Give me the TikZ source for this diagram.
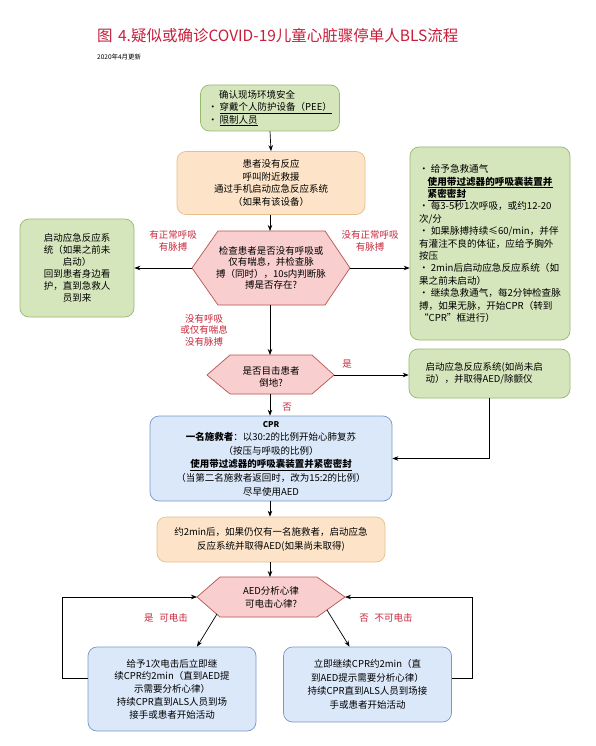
\documentclass[tikz,border=0pt]{standalone}
\usepackage{fontspec}
\setmainfont{Noto Sans CJK SC}
\usetikzlibrary{arrows.meta}
\definecolor{gfill}{RGB}{214,230,188}
\definecolor{gdraw}{RGB}{150,185,110}
\definecolor{ofill}{RGB}{253,228,200}
\definecolor{odraw}{RGB}{232,190,140}
\definecolor{pfill}{RGB}{248,206,206}
\definecolor{pdraw}{RGB}{184,84,80}
\definecolor{bfill}{RGB}{218,232,250}
\definecolor{bdraw}{RGB}{120,152,200}
\definecolor{lred}{RGB}{200,40,60}
\definecolor{tred}{RGB}{200,30,60}
\tikzset{
  box/.style={rounded corners=9pt, draw, line width=0.7pt, inner sep=0pt, align=center,
              font=\fontsize{9.5}{12.5}\selectfont},
  gbox/.style={box, fill=gfill, draw=gdraw},
  obox/.style={box, fill=ofill, draw=odraw},
  bbox/.style={box, fill=bfill, draw=bdraw},
  hexs/.style={fill=pfill, draw=pdraw, line width=0.7pt},
  hextext/.style={align=center, inner sep=0pt, font=\fontsize{9.5}{11.5}\selectfont},
  arr/.style={-{Stealth[length=6pt,width=4.5pt]}, line width=0.7pt},
  lab/.style={text=lred, align=center, inner sep=0pt, font=\fontsize{9.5}{11.5}\selectfont}
}
\begin{document}
\begin{tikzpicture}[x=1pt,y=-1pt]
\useasboundingbox (0,0) rectangle (595,746);
\fill[white] (0,0) rectangle (595,746);

% title
\node[anchor=west, text=tred, inner sep=0pt, font=\fontsize{15.5}{15.5}\selectfont] (title) at (97,36) {图\hspace{0.35em}4.疑似或确诊COVID-19儿童心脏骤停单人BLS流程};
\node[anchor=west, inner sep=0pt, font=\fontsize{6.5}{7}\selectfont] (date) at (97,57) {2020年4月更新};

% box 1
\node[gbox, minimum width=139pt, minimum height=46pt, align=left] (b1) at (270,108)
  {\hspace*{11pt}确认现场环境安全\\ • \underline{穿戴个人防护设备（PEE）}\\ • \underline{限制人员}};

% box 2
\node[obox, minimum width=188pt, minimum height=63pt] (b2) at (271,183)
  {患者没有反应\\呼叫附近救援\\通过手机启动应急反应系统\\（如果有该设备）};

% hexagon 1
\draw[hexs] (192,268) -- (218,231) -- (325,231) -- (350,268) -- (325,305) -- (218,305) -- cycle;
\coordinate (h1l) at (192,268);
\coordinate (h1r) at (350,268);
\coordinate (h1t) at (270,231);
\coordinate (h1b) at (270,305);
\node[hextext] (h1) at (271,268) {检查患者是否没有呼吸或\\仅有喘息，并检查脉\\搏（同时），10s内判断脉\\搏是否存在?};

% left green box
\node[gbox, minimum width=114pt, minimum height=98pt, font=\fontsize{9.5}{12}\selectfont] (lbox) at (77,268)
  {启动应急反应系\\统（如果之前未\\启动）\\回到患者身边看\\护，直到急救人\\员到来};

% right green box
\node[gbox, minimum width=160pt, minimum height=193pt, align=left, font=\fontsize{9.6}{12.4}\selectfont] (rbox) at (490,243.5)
  {• 给予急救通气\\
   \hspace*{0.9em}\underline{\bfseries 使用带过滤器的呼吸囊装置并}\\
   \hspace*{0.9em}\underline{\bfseries 紧密密封}\\
   • 每3-5秒1次呼吸，或约12-20\\
   次/分\\
   • 如果脉搏持续≤60/min，并伴\\
   有灌注不良的体征，应给予胸外\\
   按压\\
   • 2min后启动应急反应系统（如\\
   果之前未启动）\\
   • 继续急救通气，每2分钟检查脉\\
   搏，如果无脉，开始CPR（转到\\
   “CPR”框进行）};

% hexagon 2
\draw[hexs] (207,375) -- (230,355) -- (312,355) -- (334,375) -- (312,394) -- (230,394) -- cycle;
\coordinate (h2l) at (207,375);
\coordinate (h2r) at (334,375);
\coordinate (h2t) at (270,355);
\coordinate (h2b) at (270,394);
\node[hextext] (h2) at (271,377) {是否目击患者\\倒地?};

% AED box
\node[gbox, minimum width=161pt, minimum height=49pt, align=left] (aed) at (489.5,373.5)
  {启动应急反应系统(如尚未启\\动），并取得AED/除颤仪\hspace*{2.2em}};

% CPR box
\node[bbox, minimum width=242pt, minimum height=85pt, font=\fontsize{9.5}{13.6}\selectfont] (cpr) at (271,458.5)
  {{\fontsize{8}{10}\selectfont\bfseries CPR}\\
   {\bfseries 一名施救者}：以30:2的比例开始心肺复苏\\
   （按压与呼吸的比例）\\
   \underline{\bfseries 使用带过滤器的呼吸囊装置并紧密密封}\\
   （当第二名施救者返回时，改为15:2的比例）\\
   尽早使用AED};

% orange box 2
\node[obox, minimum width=228pt, minimum height=45pt, font=\fontsize{9.5}{14}\selectfont] (b3) at (271,539.5)
  {约2min后，如果仍仅有一名施救者，启动应急\\反应系统并取得AED(如果尚未取得)};

% hexagon 3
\draw[hexs] (197,597) -- (220,577) -- (317,577) -- (345,597) -- (317,617) -- (220,617) -- cycle;
\coordinate (h3l) at (197,597);
\coordinate (h3r) at (345,597);
\coordinate (h3t) at (270,577);
\coordinate (h3bl) at (217,614);
\coordinate (h3br) at (327,610);
\node[hextext, font=\fontsize{9.5}{13}\selectfont] (h3) at (271,597) {AED分析心律\\可电击心律?};

% bottom boxes
\node[bbox, minimum width=168pt, minimum height=84pt, font=\fontsize{9.5}{12.8}\selectfont] (bl) at (172,689)
  {给予1次电击后立即继\\续CPR约2min（直到AED提\\示需要分析心律）\\持续CPR直到ALS人员到场\\接手或患者开始活动};
\node[bbox, minimum width=168pt, minimum height=75pt, font=\fontsize{9.5}{13.5}\selectfont] (br) at (367.5,684.5)
  {立即继续CPR约2min（直\\到AED提示需要分析心律）\\持续CPR直到ALS人员到场接\\手或患者开始活动};

% connectors
\draw[arr] (b1.south) -- (b2.south |- b2.north);
\draw[arr] (b2.south -| h1t) -- (h1t);
\draw[arr] (h1l) -- (lbox.east |- h1l);
\draw[arr] (h1r) -- (h1r -| rbox.west);
\draw[arr] (h1b) -- (h2t);
\draw[arr] (h2r) -- (h2r -| aed.west);
\draw[arr] (h2b) -- (h2b |- cpr.north);
\draw[arr] (aed.south) |- (cpr.east);
\draw[arr] (cpr.south -| h2b) -- (h2b |- b3.north);
\draw[arr] (b3.south -| h3t) -- (h3t);
\draw[arr] (h3bl) -- ([xshift=25pt]bl.north);
\draw[arr] (h3br) -- ([xshift=-18pt]br.north);
\draw[arr] ([yshift=11pt]bl.west) -- ++(-25,0) |- (h3l);
\draw[arr] ([yshift=6.5pt]br.east) -- ++(20,0) |- (h3r);

% labels
\node[lab] (l1) at (173,241) {有正常呼吸\\有脉搏};
\node[lab] (l2) at (370,241) {没有正常呼吸\\有脉搏};
\node[lab] (l3) at (204,330) {没有呼吸\\或仅有喘息\\没有脉搏};
\node[lab] (l4) at (347,364) {是};
\node[lab] (l5) at (287,407) {否};
\node[lab] (l6) at (166,618) {是\hspace{0.6em}可电击};
\node[lab] (l7) at (386,618) {否\hspace{0.6em}不可电击};
\end{tikzpicture}
\end{document}
